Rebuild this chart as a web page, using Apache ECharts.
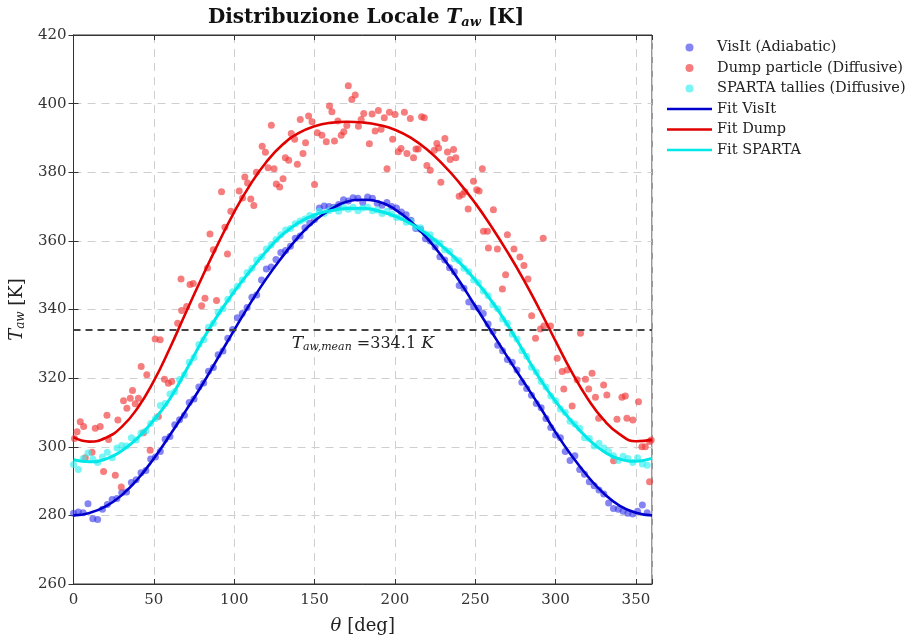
<!DOCTYPE html>
<html>
<head>
<meta charset="utf-8">
<script src="https://cdn.jsdelivr.net/npm/echarts@6/dist/echarts.min.js"></script>
<style>
  html, body { margin: 0; padding: 0; background: #fff; }
  #chart { width: 910px; height: 642px; }
</style>
</head>
<body>
<div id="chart"></div>
<script>
// theta grid for VisIt and SPARTA points [deg]
const thetaGrid = [0,3,6,9,12,15,18,21,24,27,30,33,36,39,42,45,48,51,54,57,
  60,63,66,69,72,75,78,81,84,87,90,93,96,99,102,105,108,111,114,117,
  120,123,126,129,132,135,138,141,144,147,150,153,156,159,162,165,168,171,174,177,
  180,183,186,189,192,195,198,201,204,207,210,213,216,219,222,225,228,231,234,237,
  240,243,246,249,252,255,258,261,264,267,270,273,276,279,282,285,288,291,294,297,
  300,303,306,309,312,315,318,321,324,327,330,333,336,339,342,345,348,351,354,357];

const visitT = [280.6,281.0,280.8,283.4,279.0,278.8,281.8,283.2,284.6,284.9,286.6,286.8,289.6,290.4,292.4,293.1,296.4,297.0,298.6,302.2,
  303.0,306.4,307.9,309.2,312.9,313.9,317.4,318.6,322.0,323.1,326.8,327.9,331.6,334.2,337.6,338.8,340.6,343.6,344.2,348.6,
  351.8,352.4,354.6,356.6,357.2,358.4,360.8,361.4,363.8,365.2,366.2,369.6,370.2,370.0,369.8,370.6,372.0,371.6,372.6,372.4,
  371.2,372.8,372.4,371.0,370.4,371.2,370.0,369.6,368.4,367.6,366.0,363.6,363.4,360.6,360.0,358.2,355.4,354.4,352.2,351.0,
  347.0,346.2,342.2,340.8,340.4,338.8,335.8,333.6,329.6,328.0,325.4,324.6,322.4,318.8,317.0,315.0,312.6,311.4,308.2,305.6,
  303.4,302.6,298.6,296.0,297.4,293.4,292.0,289.8,288.6,287.4,286.2,283.6,282.0,281.8,281.2,280.6,280.4,281.2,283.0,280.8];

const spartaT = [294.8,293.4,296.6,298.2,296.4,295.4,297.0,298.4,296.8,299.6,300.4,300.2,302.6,302.0,304.0,304.6,306.8,308.2,312.0,312.6,
  315.4,316.0,319.6,321.0,324.6,326.0,329.8,331.2,334.8,336.0,339.2,340.2,343.0,345.2,346.8,348.6,350.8,352.0,354.4,355.4,
  357.6,358.8,360.4,361.8,363.2,363.6,365.0,365.8,366.4,367.4,367.2,368.6,368.0,368.8,369.4,368.6,369.8,369.2,369.8,368.8,
  369.6,369.8,368.8,369.0,368.0,368.6,367.8,366.8,366.8,365.4,365.6,364.0,363.8,362.0,361.8,359.8,359.4,357.4,357.0,354.8,
  354.2,352.0,351.0,348.6,347.8,345.4,344.0,341.4,340.2,337.2,336.0,332.8,331.4,328.0,326.4,323.2,321.8,319.0,317.4,314.8,
  313.4,311.0,310.0,307.4,306.6,305.4,302.6,302.4,300.2,301.0,299.6,298.6,297.4,296.0,297.2,296.6,295.4,296.8,295.0,294.6];

// Dump particle points (theta, T)
const dumpTheta = [0.6,2.2,4.2,6.3,7.3,11.5,13.5,16.6,18.7,20.8,21.8,26,27.6,29.7,31.1,33.2,35.3,36.7,38.4,40.4,
  42.1,43.5,45.6,47.7,50.8,52.8,53.9,56.6,59,61.1,64.8,66.9,67.3,70.4,72.5,74.5,79.7,81.8,83.4,84.9,
  87,89,92.1,94.2,95.8,97.9,103.1,105.2,106.6,108.3,110.3,112.2,113.8,117.4,119.4,121.1,123.1,124.8,126.2,128.3,
  130.4,131.8,133.9,135.5,137.6,139.3,141.1,142.8,144.4,146.3,148.4,150,151.7,154.6,157.3,159.3,160.8,162.4,164.5,166.6,
  168.2,170.1,171,173.2,175.3,177.3,179,180.6,184.1,185.8,187.7,189.7,191.4,193.4,195.1,196.6,198.6,200.1,202.1,203.8,
  205.9,207.5,209.6,211.6,213.1,214.5,216.6,218.3,219.9,222,224.5,226.1,227.2,228.6,231.1,232.7,234.4,236.5,237.9,240,
  242,243.5,245.6,248.9,250.9,252.4,254.4,255.1,257.6,258.2,261.3,263.8,266.9,268.9,270,274.1,277.8,280.3,282.8,285.1,
  287.5,290.6,292.3,292.7,296.8,301,304.1,305.1,307.2,310.3,313.4,315.5,318.6,320.6,322.7,324.8,326.8,329.9,331.9,336.1,
  338.2,341.3,343.4,344.4,348.1,351.6,353.7,355.8,358.5,358.5,359.5];
const dumpT = [302.4,304.4,307.3,305.9,296.8,298.4,305.4,305.9,292.8,309.2,302.1,291.7,307.8,288.3,313.4,311.2,314.1,316.4,312.5,314.1,
  323.4,304.1,321.0,299.0,331.4,308.8,331.2,319.7,318.5,319.0,336.0,348.9,339.7,340.9,347.3,347.6,341.1,343.3,352.1,362.0,
  357.4,342.6,374.3,364.0,356.2,368.6,374.5,372.5,378.6,376.9,372.2,370.3,380.0,387.6,385.8,381.3,393.7,381.0,376.6,375.7,
  378.1,384.2,383.5,391.3,389.6,382.3,395.4,385.5,388.6,396.4,394.7,376.4,391.5,390.8,388.9,399.3,397.6,389.1,394.9,390.8,
  391.8,393.6,405.2,401.2,402.5,393.4,395.4,397.1,388.3,397.0,392.0,398.0,392.5,395.9,381.0,397.5,389.6,396.8,386.0,386.9,
  397.5,385.5,395.7,384.2,386.8,386.8,396.2,395.9,382.0,380.6,386.4,388.4,387.1,377.1,389.8,385.9,383.7,386.6,384.2,373.0,
  373.5,374.3,369.3,377.4,374.9,374.5,381.0,362.8,362.8,357.9,369.1,357.6,346.0,350.1,361.8,357.6,355.3,352.8,348.9,338.2,
  331.6,334.3,360.8,335.2,335.2,325.8,321.9,316.8,322.4,311.9,319.5,333.1,319.7,316.8,321.4,314.4,308.3,318.0,315.1,295.9,
  308.0,314.4,314.8,308.3,307.8,313.1,300.0,300.0,301.5,289.8,302.0];

// fit curves, every 10 deg
const fitTheta = [0,10,20,30,40,50,60,70,80,90,100,110,120,130,140,150,160,170,180,
  190,200,210,220,230,240,250,260,270,280,290,300,310,320,330,340,350,360];
const fitVisit = [280.0,280.7,282.6,285.9,290.6,296.6,303.4,310.6,318.0,326.0,334.0,341.8,349.0,355.4,361.2,365.8,369.2,371.4,372.0,
  371.4,369.2,365.6,360.8,355.0,348.4,341.0,333.6,326.2,319.0,311.8,304.2,297.4,291.4,286.4,282.8,280.8,280.0];
const fitDump = [302.8,301.5,302.6,305.8,311.4,319.2,328.8,339.2,349.4,359.2,368.4,376.4,383.0,388.0,391.4,393.4,394.4,394.7,394.5,
  393.8,392.4,390.0,386.6,382.2,377.0,371.0,364.2,356.8,348.8,340.0,330.8,321.8,314.0,307.8,303.6,301.6,302.0];
const fitSparta = [296.2,295.6,296.4,298.8,302.6,307.8,314.0,322.2,330.8,338.5,345.2,351.3,357.0,361.8,365.3,367.6,368.8,369.4,369.5,
  368.7,367.2,365.0,362.0,358.2,353.8,348.6,342.6,335.6,327.8,320.0,313.2,307.4,302.4,298.6,296.4,295.8,296.6];

const meanT = 334.1;

const xTicks = [0, 50, 100, 150, 200, 250, 300, 350];
const yTicks = [260, 280, 300, 320, 340, 360, 380, 400, 420];

const FONT = 'DejaVu Serif';
const LINE_ICON = 'path://M0,0L45,0L45,2.6L0,2.6Z';

const chart = echarts.init(document.getElementById('chart'), null, { renderer: 'canvas' });

const zip = (xs, ys) => xs.map((x, i) => [x, ys[i]]);

const gridDash = { color: '#cfcfcf', type: [8, 6], width: 1 };

const subRich = {
  b: { fontFamily: FONT, fontWeight: 'bold', fontSize: 20, color: '#111' },
  i: { fontFamily: FONT, fontStyle: 'italic', fontSize: 20, color: '#111' },
  s: { fontFamily: FONT, fontStyle: 'italic', fontSize: 13, color: '#111', verticalAlign: 'bottom', padding: [9, 0, 0, 0] }
};

const option = {
  backgroundColor: '#fff',
  animation: false,
  textStyle: { fontFamily: FONT },
  title: {
    text: '{b|Distribuzione Locale }{i|T}{s|aw}{b| [K]}',
    left: 361,
    textAlign: 'center',
    top: 2,
    textStyle: { rich: subRich }
  },
  legend: {
    orient: 'vertical',
    left: 662,
    top: 35,
    itemWidth: 45,
    itemHeight: 8,
    itemGap: 5.5,
    textStyle: { fontFamily: FONT, fontSize: 14.5, color: '#222' },
    data: [
      { name: 'VisIt (Adiabatic)', icon: 'circle' },
      { name: 'Dump particle (Diffusive)', icon: 'circle' },
      { name: 'SPARTA tallies (Diffusive)', icon: 'circle' },
      { name: 'Fit VisIt', icon: LINE_ICON },
      { name: 'Fit Dump', icon: LINE_ICON },
      { name: 'Fit SPARTA', icon: LINE_ICON }
    ]
  },
  grid: {
    left: 71, top: 35, width: 581, height: 549,
    show: true, borderColor: '#333', borderWidth: 1, backgroundColor: '#fff'
  },
  xAxis: [{
    type: 'value', min: 0, max: 360, interval: 50,
    name: '{i|θ} [deg]', nameLocation: 'middle', nameGap: 33,
    nameTextStyle: { fontFamily: FONT, fontSize: 18, color: '#222',
      rich: { i: { fontFamily: FONT, fontStyle: 'italic', fontSize: 18, color: '#222' } } },
    axisLine: { show: true, lineStyle: { color: '#333' } },
    axisTick: { show: true, inside: true, length: 5, lineStyle: { color: '#333' } },
    axisLabel: { fontFamily: FONT, fontSize: 15, color: '#333', margin: 9,
      formatter: v => (xTicks.includes(v) ? String(v) : '') },
    splitLine: { show: true, lineStyle: gridDash }
  }, {
    type: 'value', min: 0, max: 360, interval: 50, position: 'top',
    axisLine: { show: true, lineStyle: { color: '#333' } },
    axisTick: { show: true, inside: true, length: 5, lineStyle: { color: '#333' } },
    axisLabel: { show: false }, splitLine: { show: false }
  }],
  yAxis: [{
    type: 'value', min: 260, max: 420, interval: 20,
    name: '{i|T}{s|aw} [K]', nameLocation: 'middle', nameGap: 46, nameRotate: 90,
    nameTextStyle: { fontFamily: FONT, fontSize: 18, color: '#222',
      rich: {
        i: { fontFamily: FONT, fontStyle: 'italic', fontSize: 18, color: '#222' },
        s: { fontFamily: FONT, fontStyle: 'italic', fontSize: 12, color: '#222', verticalAlign: 'bottom', padding: [8, 0, 0, 0] }
      } },
    axisLine: { show: true, lineStyle: { color: '#333' } },
    axisTick: { show: true, inside: true, length: 5, lineStyle: { color: '#333' } },
    axisLabel: { fontFamily: FONT, fontSize: 15, color: '#333', margin: 7,
      formatter: v => (yTicks.includes(v) ? String(v) : '') },
    splitLine: { show: true, lineStyle: gridDash }
  }, {
    type: 'value', min: 260, max: 420, interval: 20, position: 'right',
    axisLine: { show: true, lineStyle: { color: '#333' } },
    axisTick: { show: true, inside: true, length: 5, lineStyle: { color: '#333' } },
    axisLabel: { show: false }, splitLine: { show: false }
  }],
  series: [
    {
      name: 'VisIt (Adiabatic)', type: 'scatter', symbolSize: 7,
      itemStyle: { color: 'rgb(50,50,235)', opacity: 0.6 },
      data: zip(thetaGrid, visitT)
    },
    {
      name: 'Dump particle (Diffusive)', type: 'scatter', symbolSize: 7,
      itemStyle: { color: 'rgb(240,55,55)', opacity: 0.65 },
      data: zip(dumpTheta, dumpT)
    },
    {
      name: 'SPARTA tallies (Diffusive)', type: 'scatter', symbolSize: 7,
      itemStyle: { color: 'rgb(50,240,240)', opacity: 0.65 },
      data: zip(thetaGrid, spartaT)
    },
    {
      name: 'Fit VisIt', type: 'line', smooth: true, symbol: 'none',
      lineStyle: { color: '#0000cc', width: 2.6 }, itemStyle: { color: '#0000cc' },
      data: zip(fitTheta, fitVisit)
    },
    {
      name: 'Fit Dump', type: 'line', smooth: true, symbol: 'none',
      lineStyle: { color: '#e00000', width: 2.6 }, itemStyle: { color: '#e00000' },
      data: zip(fitTheta, fitDump)
    },
    {
      name: 'Fit SPARTA', type: 'line', smooth: true, symbol: 'none',
      lineStyle: { color: '#00e8e8', width: 3 }, itemStyle: { color: '#00e8e8' },
      data: zip(fitTheta, fitSparta),
      markLine: {
        silent: true, symbol: 'none',
        lineStyle: { color: '#444', type: [7, 5], width: 2 },
        label: {
          position: 'insideMiddleBottom', distance: 5,
          formatter: '{i|T}{s|aw,mean} =' + meanT.toFixed(1) + ' {i|K}',
          fontFamily: FONT, fontSize: 16, color: '#222',
          rich: {
            i: { fontFamily: FONT, fontStyle: 'italic', fontSize: 17, color: '#222' },
            s: { fontFamily: FONT, fontStyle: 'italic', fontSize: 11, color: '#222', verticalAlign: 'bottom', padding: [7, 0, 0, 0] }
          }
        },
        data: [{ yAxis: meanT }]
      }
    }
  ]
};

chart.setOption(option);
</script>
</body>
</html>
